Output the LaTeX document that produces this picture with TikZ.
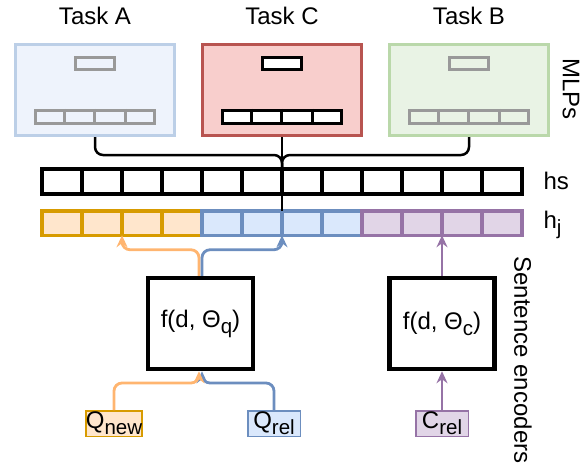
\documentclass[tikz,border=0pt]{standalone}
\usepackage{fontspec}
\setmainfont{Liberation Sans}
\usetikzlibrary{arrows.meta,positioning}

\definecolor{aFill}{HTML}{EEF3FC}
\definecolor{aLine}{HTML}{BCCFE7}
\definecolor{cFill}{HTML}{F8CECC}
\definecolor{cLine}{HTML}{B85450}
\definecolor{bFill}{HTML}{E9F3E5}
\definecolor{bLine}{HTML}{BAD8AA}
\definecolor{orFill}{HTML}{FFE6CC}
\definecolor{orLine}{HTML}{D79B00}
\definecolor{orArrow}{HTML}{FFB570}
\definecolor{blFill}{HTML}{DAE8FC}
\definecolor{blLine}{HTML}{6C8EBF}
\definecolor{puFill}{HTML}{E1D5E7}
\definecolor{puLine}{HTML}{9673A6}
\definecolor{unitGray}{HTML}{999999}

\newcommand{\lowsub}[1]{\raisebox{-6pt}{\fontsize{20.5}{22}\selectfont #1}}

\begin{document}
\begin{tikzpicture}[x=1pt, y=-1pt, node distance=40pt, on grid,
    font=\fontsize{24}{28}\selectfont,
    >={Stealth[length=12pt, width=11pt, inset=4pt]},
    mlp/.style={draw=#1Line, fill=#1Fill, line width=3pt, minimum width=159pt, minimum height=91pt, inner sep=0pt},
    unit/.style={draw=#1, line width=3.5pt, minimum width=39pt, minimum height=12pt, inner sep=0pt},
    row/.style={unit=#1, minimum width=119pt, minimum height=13pt},
    hcell/.style={draw, line width=4pt, minimum width=40pt, minimum height=25.5pt, inner sep=0pt, outer sep=0pt},
    jcell/.style={draw=#1Line, fill=#1Fill, line width=3.5pt, minimum width=40pt, minimum height=24.5pt, inner sep=0pt, outer sep=0pt},
    enc/.style={draw, fill=white, line width=4.5pt, minimum width=105pt, minimum height=91pt, inner sep=0pt},
    inp/.style={draw=#1Line, fill=#1Fill, line width=1.5pt, minimum width=52.5pt, minimum height=25.5pt, inner sep=0pt},
    link/.style={line width=2.5pt, rounded corners=8pt},
    flow/.style={->, draw=#1, line width=2.8pt, rounded corners=8pt}]
  \useasboundingbox (0,0) rectangle (585,466);

  % task specific MLPs
  \node[mlp=a] (ta) at (95,90) {};
  \node[mlp=c] (tc) [right=187pt of ta] {};
  \node[mlp=b] (tb) [right=187pt of tc] {};
  \foreach \t/\n/\c/\f in {a/A/unitGray/none, c/C/black/white, b/B/unitGray/none} {
    \node (l\t) [above=74pt of t\t] {Task \n};
    \node[unit=\c, fill=\f] (u\t) [above=26.5pt of t\t] {};
    \node[row=\c, fill=\f] (r\t) [below=27pt of t\t] {};
    \foreach \i in {1,2,3}
      \draw[\c, line width=3pt] ([xshift=\i*30.5pt]r\t.north west) -- ([xshift=\i*30.5pt]r\t.south west);
  }
  \node[rotate=-90] (mlps) at (571,89) {MLPs};

  % shared and joint representations
  \foreach \i in {0,...,11}
    \node[hcell] (hs\i) at ({62+40*\i},181.5) {};
  \foreach \c [count=\i from 0] in {or,or,or,or,bl,bl,bl,bl,pu,pu,pu,pu}
    \node[jcell=\c] (hj\i) at ({62+40*\i},223) {};
  \node[anchor=base west] (hsl) at (540,189) {hs};
  \node[anchor=base west] (hjl) at (540,228) {h\lowsub{j}};

  \draw[link] (ta.south) -- ++(0,18) -| (tc.south |- hs6.north);
  \draw[link] (tb.south) -- ++(0,18) -| (tc.south |- hs6.north);
  \draw[link] (tc.south) -- (tc.south |- hj6.north);

  % sentence encoders
  \node[enc] (fq) at (200.5,323.5) {f(d, Θ\lowsub{q})};
  \node[enc] (fc) [right=241.5pt of fq] {f(d, Θ\lowsub{c})};
  \node[rotate=-90] (senc) at (523,360) {Sentence encoders};

  \node[inp=or] (qn) at (114,423.5) {Q\lowsub{new}};
  \node[inp=bl] (qr) [right=160pt of qn] {Q\lowsub{rel}};
  \node[inp=pu] (cr) [right=328pt of qn] {C\lowsub{rel}};

  \draw[flow=blLine] (qr.north) -- ++(0,-27) -| ([xshift=1.5pt]fq.south);
  \draw[flow=orArrow] (qn.north) -- ++(0,-27) -| ([xshift=-1.5pt]fq.south);
  \draw[flow=orArrow] ([xshift=-1.5pt]fq.north) -- ++(0,-26) -| (hj2.south west);
  \draw[flow=blLine] ([xshift=1.5pt]fq.north) -- ++(0,-26) -| (hj6.south west);
  \draw[flow=puLine] (cr) -- (fc);
  \draw[flow=puLine] (fc) -- (hj10.south west);
\end{tikzpicture}
\end{document}
